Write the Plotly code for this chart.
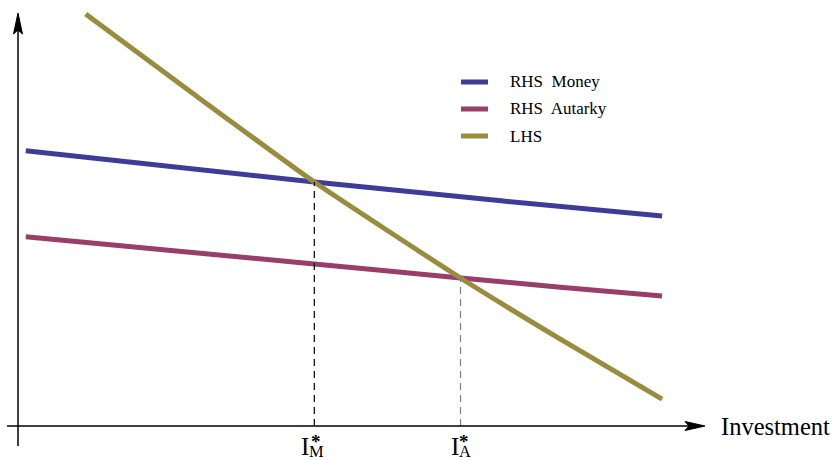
import numpy as np
import plotly.graph_objects as go

# Curves: investment on the x axis, marginal value on the y axis
investment_money = [0.12, 4.6, 7.5, 10.0]
rhs_money = [6.88, 6.10, 5.63, 5.25]

investment_autarky = [0.12, 4.6, 6.87, 8.42, 10.0]
rhs_autarky = [4.73, 4.05, 3.70, 3.47, 3.25]

investment_lhs = [1.05, 2.7, 4.6, 6.87, 8.42, 10.0]
lhs = [10.30, 8.33, 6.10, 3.70, 2.17, 0.67]

# Equilibrium investment levels
i_star_m = 4.6
i_star_a = 6.87

series_names = ["RHS  Money", "RHS  Autarky", "LHS"]
series_colors = ["#3d3d99", "#993d6b", "#998c3d"]

W, H = 836, 460
X_RANGE = [-0.28, 12.7]
Y_RANGE = [-0.85, 10.65]
FONT = "Liberation Serif"


def px(x):
    return x / W


def py(y):
    return 1 - y / H


fig = go.Figure()

curves = [
    (investment_money, rhs_money),
    (investment_autarky, rhs_autarky),
    (investment_lhs, lhs),
]
for (xs, ys), name, color in zip(curves, series_names, series_colors):
    fig.add_trace(go.Scatter(
        x=xs, y=ys, name=name, mode="lines",
        line=dict(color=color, width=5, shape="spline", smoothing=0.5),
        showlegend=False, hoverinfo="skip",
    ))

# Dashed drop lines from the intersections down to the investment axis
top_m = float(np.interp(i_star_m, investment_money, rhs_money))
top_a = float(np.interp(i_star_a, investment_autarky, rhs_autarky))
for xv, top, col in [(i_star_m, top_m, "#000000"), (i_star_a, top_a, "#808080")]:
    fig.add_trace(go.Scatter(
        x=[xv, xv], y=[0, top], mode="lines",
        line=dict(color=col, width=1.2, dash="7px,5px"),
        showlegend=False, hoverinfo="skip",
    ))

shapes = []
# Axes with arrowheads
shapes.append(dict(type="line", xref="paper", yref="paper",
                   x0=px(7), x1=px(690), y0=py(426), y1=py(426),
                   line=dict(color="black", width=1.5)))
shapes.append(dict(type="line", xref="paper", yref="paper",
                   x0=px(18), x1=px(18), y0=py(446), y1=py(30),
                   line=dict(color="black", width=1.5)))


def head(points):
    d = "M " + " L ".join(f"{px(a):.5f},{py(b):.5f}" for a, b in points) + " Z"
    return dict(type="path", xref="paper", yref="paper", path=d,
                fillcolor="black", line=dict(color="black", width=1))


shapes.append(head([(705, 426), (685, 421.5), (689, 426), (685, 430.5)]))
shapes.append(head([(18, 13), (13.5, 34), (18, 30), (22.5, 34)]))

# Legend
legend_y = [82, 109, 136]
annotations = []
for name, color, ly in zip(series_names, series_colors, legend_y):
    shapes.append(dict(type="line", xref="paper", yref="paper",
                       x0=px(461), x1=px(488), y0=py(ly), y1=py(ly),
                       line=dict(color=color, width=5)))
    annotations.append(dict(xref="paper", yref="paper", x=px(508), y=py(ly),
                            xanchor="left", yanchor="middle", showarrow=False,
                            text=name.replace("  ", "&nbsp; "),
                            font=dict(family=FONT, size=17, color="black")))

annotations.append(dict(xref="paper", yref="paper", x=px(719), y=py(426),
                        xanchor="left", yanchor="middle", showarrow=False,
                        text="Investment",
                        font=dict(family=FONT, size=24.5, color="black")))

# Equilibrium labels: I with stacked * and subscript
for xv, sub, dx_i, dx_sub in [(i_star_m, "M", -9.5, 2.5), (i_star_a, "A", -6, 4.5)]:
    annotations.append(dict(xref="x", yref="paper", x=xv, y=py(446),
                            xanchor="center", yanchor="middle", xshift=dx_i,
                            showarrow=False, text="I",
                            font=dict(family=FONT, size=25, color="black")))
    annotations.append(dict(xref="x", yref="paper", x=xv, y=py(441.5),
                            xanchor="center", yanchor="middle", xshift=dx_sub - 1,
                            showarrow=False, text="<b>*</b>",
                            font=dict(family=FONT, size=19, color="black")))
    annotations.append(dict(xref="x", yref="paper", x=xv, y=py(451.5),
                            xanchor="center", yanchor="middle", xshift=dx_sub,
                            showarrow=False, text=sub, borderpad=0,
                            font=dict(family=FONT, size=16.5, color="black")))

fig.update_layout(
    width=W, height=H,
    margin=dict(l=0, r=0, t=0, b=0),
    paper_bgcolor="white", plot_bgcolor="white",
    xaxis=dict(range=X_RANGE, visible=False, fixedrange=True),
    yaxis=dict(range=Y_RANGE, visible=False, fixedrange=True),
    shapes=shapes, annotations=annotations,
    showlegend=False,
)

fig.write_html("out.html")
